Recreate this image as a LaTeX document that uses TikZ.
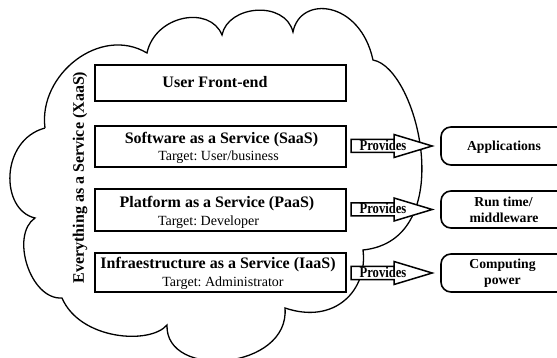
\documentclass[tikz,border=0pt]{standalone}
\usepackage{fontspec}
\setmainfont{Liberation Serif}
\usetikzlibrary{calc}
\frenchspacing
\begin{document}
\begin{tikzpicture}[x=1pt,y=-1pt,
  layer/.style={draw,line width=2pt,fill=white,minimum width=251pt,inner sep=0pt},
  resbox/.style={draw,line width=1.6pt,fill=white,rounded corners=10pt,minimum width=129pt,inner sep=0pt},
  ttl/.style={inner sep=0pt,anchor=base,font=\bfseries\fontsize{16}{19}\selectfont},
  sub/.style={inner sep=0pt,anchor=base,font=\fontsize{14}{17}\selectfont},
  rtxt/.style={inner sep=0pt,anchor=base,font=\bfseries\fontsize{13.7}{16}\selectfont},
  prov/.style={inner sep=0pt,anchor=base,font=\bfseries\fontsize{12.6}{14}\selectfont},
  blockarrow/.style={draw,line width=1.5pt,fill=white,line join=miter},
  cloudline/.style={draw,line width=1.3pt}]
\useasboundingbox (0,0) rectangle (557,358);
\clip (0,0) rectangle (557,358);
% cloud
\path[cloudline] (45,128)
  .. controls (38,75) and (100,25) .. (147,53)
  .. controls (155,15) and (210,5) .. (222,35)
  .. controls (228,5) and (285,0) .. (293,32)
  .. controls (300,-5) and (360,0) .. (373,60)
  .. controls (418,68) and (460,240) .. (363,250)
  .. controls (368,290) and (335,325) .. (285,308)
  .. controls (290,370) and (165,380) .. (167,325)
  .. controls (150,345) and (80,340) .. (62,298)
  .. controls (30,300) and (10,235) .. (35,218)
  .. controls (0,210) and (0,140) .. (45,128);
% layer boxes
\node[layer,minimum height=36pt] (ui) at (220.5,83) {};
\node[layer,minimum height=41pt] (saas) at (220.5,146.5) {};
\node[layer,minimum height=42pt] (paas) at (220.5,210) {};
\node[layer,minimum height=39pt] (iaas) at (220.5,272.5) {};
\node[ttl] (uit) at (215,87.3) {User Front-end};
\node[ttl] (saast) at (221.5,144) {Software as a Service (SaaS)};
\node[sub] (saass) at (218.5,161) {Target: User/business};
\node[ttl] (paast) at (217,207.3) {Platform as a Service (PaaS)};
\node[sub] (paass) at (208.5,226) {Target: Developer};
\node[ttl] (iaast) at (218,269) {Infraestructure as a Service (IaaS)};
\node[sub] (iaass) at (223,286.6) {Target: Administrator};
% vertical label
\node[inner sep=0pt,rotate=90,font=\bfseries\fontsize{16}{19}\selectfont] (xaas) at (80,177.5) {Everything as a Service (XaaS)};
% result boxes
\node[resbox,minimum height=38pt] (apps) at (505.5,146) {};
\node[resbox,minimum height=37pt] (run) at (505.5,209.5) {};
\node[resbox,minimum height=38pt] (comp) at (505.5,273) {};
\node[rtxt] (appst) at (504,150.8) {Applications};
\node[rtxt] (runt1) at (503.5,206.4) {Run time/};
\node[rtxt] (runt2) at (504,222.6) {middleware};
\node[rtxt] (compt1) at (502.5,269) {Computing};
\node[rtxt] (compt2) at (502.5,284) {power};
% block arrows
\foreach \a/\b/\n in {saas/apps/1,paas/run/2,iaas/comp/3}{
  \coordinate (s\n) at ($(\a.east |- \b.west)+(4,0)$);
  \coordinate (t\n) at ($(\b.west)+(-8,0)$);
  \path[blockarrow] ($(s\n)+(0,-6.5)$) -- ($(s\n)+(43,-6.5)$) -- ($(s\n)+(43,-11.5)$)
     -- (t\n) -- ($(s\n)+(43,11.5)$) -- ($(s\n)+(43,6.5)$) -- ($(s\n)+(0,6.5)$) -- cycle;
  \node[prov] (p\n) at ($(s\n)+(32,4.5)$) {\scalebox{1}[1.2]{Provides}};
}
\end{tikzpicture}
\end{document}
